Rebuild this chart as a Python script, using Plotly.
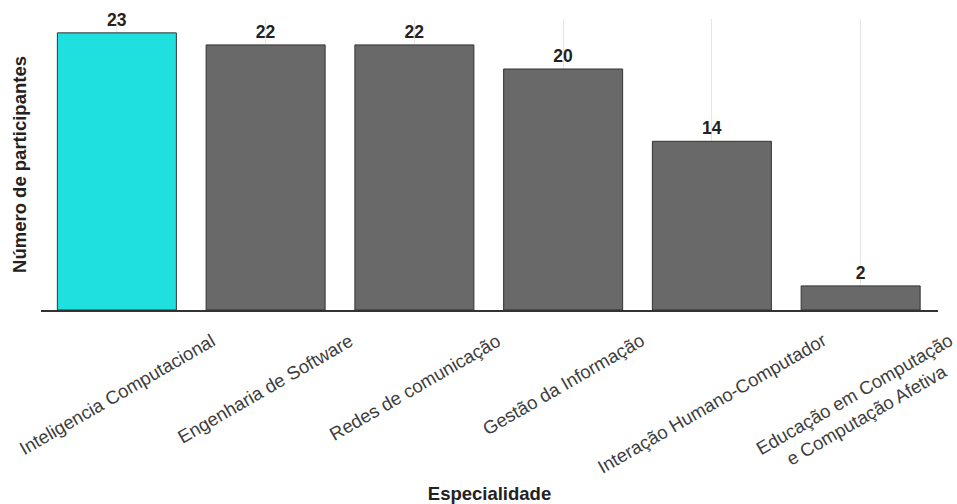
import plotly.graph_objects as go

# Participants per speciality
especialidades = [
    "Inteligencia Computacional",
    "Engenharia de Software",
    "Redes de comunicação",
    "Gestão da Informação",
    "Interação Humano-Computador",
    "Educação em Computação<br>e Computação Afetiva",
]
participantes = [23, 22, 22, 20, 14, 2]
destaque = "Inteligencia Computacional"

FONT = "Liberation Sans, Arial, sans-serif"
cores = ["#20E0DF" if e == destaque else "#696969" for e in especialidades]
posicoes = list(range(len(especialidades)))

fig = go.Figure()
fig.add_trace(go.Bar(
    x=posicoes,
    y=participantes,
    marker=dict(color=cores, line=dict(color="#333333", width=1)),
    texttemplate="<b>%{y}</b>",
    textposition="outside",
    textfont=dict(family=FONT, size=17.5, color="#222222"),
    cliponaxis=False,
    showlegend=False,
    hoverinfo="skip",
))

# Category labels, centred under each bar and rotated
for pos, nome in zip(posicoes, especialidades):
    fig.add_annotation(
        x=pos, y=0, xref="x", yref="y",
        text=nome, textangle=-30,
        xanchor="center", yanchor="top", yshift=-17,
        showarrow=False, align="center",
        font=dict(family=FONT, size=18.5, color="#3D3D3D"),
    )

fig.update_layout(
    width=957, height=504,
    margin=dict(l=41, r=19, t=19, b=194),
    paper_bgcolor="white", plot_bgcolor="white",
    bargap=0.2,
    font=dict(family=FONT, color="#222222"),
    xaxis=dict(
        range=[-0.51, 5.52],
        tickmode="array", tickvals=posicoes,
        showticklabels=False, ticks="",
        showgrid=True, gridcolor="#E6E6E6", gridwidth=1,
        showline=True, linecolor="#333333", linewidth=2,
        zeroline=False,
        title=dict(text="<b>Especialidade</b>", standoff=176,
                   font=dict(family=FONT, size=18.5, color="#222222")),
        automargin=False,
    ),
    yaxis=dict(
        range=[0, 24.15],
        showticklabels=False, ticks="", showgrid=False,
        showline=False, zeroline=False,
        title=dict(text="<b>Número de participantes</b>", standoff=8,
                   font=dict(family=FONT, size=18.5, color="#222222")),
        automargin=False,
    ),
)

fig.write_html("out.html")
